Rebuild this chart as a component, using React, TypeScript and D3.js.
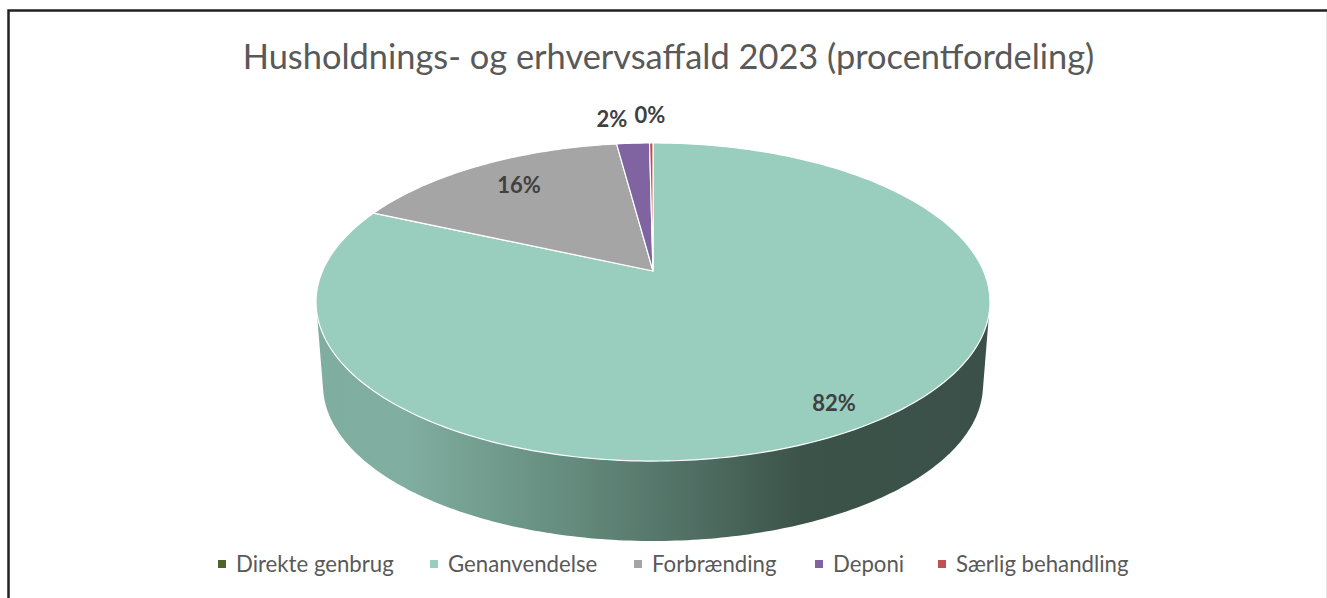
import * as d3 from "d3";
import React, { useMemo } from "react";

const categories = ["Direkte genbrug", "Genanvendelse", "Forbrænding", "Deponi", "Særlig behandling"];
const values = [0, 81.7, 16.2, 1.9, 0.2];
const labels = ["", "82%", "16%", "2%", "0%"];
const colors = ["#4f6228", "#99cdbe", "#a5a5a5", "#8064a2", "#c0504d"];
const legendX = [218, 430, 634, 815, 938];
const labelPos: [number, number][] = [[0, 0], [834, 403], [519, 185], [612, 119], [650, 115]];

const W = 1327;
const H = 598;
const cx = 653;
const apexY = 271;
// the pie is tilted, so the near edge comes out bigger than the far edge
const k = -0.195;
const projX = 330.5;
const projY = 153;
const side = { cy: 385, rx: 330, ry: 156 };

const project = (a: number): [number, number] => {
  const u = Math.sin(a);
  const v = -Math.cos(a);
  const d = 1 + k * v;
  return [cx + (projX * u) / d, apexY + (projY * v) / d];
};

const App = () => {
  const slices = useMemo(
    () => d3.pie<number>().sort(null).startAngle(0).endAngle(2 * Math.PI)(values),
    []
  );
  const line = d3.line();

  const slicePath = (s: d3.PieArcDatum<number>) => {
    const n = Math.max(2, Math.ceil((s.endAngle - s.startAngle) * 60));
    const pts = d3.range(n + 1).map((i) => project(s.startAngle + ((s.endAngle - s.startAngle) * i) / n));
    return line([[cx, apexY], ...pts, [cx, apexY]]) + "Z";
  };

  // side wall: base ellipse from tangent to tangent, joined up to the widest points of the rim
  const base = d3.range(2, 179).map((deg): [number, number] => {
    const a = (deg / 180) * Math.PI;
    return [cx + side.rx * Math.cos(a), side.cy + side.ry * Math.sin(a)];
  });
  const widest = Math.acos(k);
  const rimLeft = project(2 * Math.PI - widest);
  const rimRight = project(widest);
  const wall = line([...base, rimLeft, [cx, apexY], rimRight]) + "Z";

  return (
    <svg width={W} height={H} style={{ position: "absolute", left: 0, top: 0, background: "#fff" }}>
      <defs>
        <linearGradient id="wall" gradientUnits="userSpaceOnUse" x1={318} x2={988} y1={0} y2={0}>
          <stop offset="0" stopColor="#7fad9f" />
          <stop offset="0.13" stopColor="#80aea0" />
          <stop offset="0.38" stopColor="#648b7d" />
          <stop offset="0.57" stopColor="#4f6d62" />
          <stop offset="0.72" stopColor="#3c5349" />
          <stop offset="1" stopColor="#3a5049" />
        </linearGradient>
      </defs>
      <path d={`M8.5,${H}V10.5H${W}`} fill="none" stroke="#222" strokeWidth={2.5} />
      <line x1={W - 0.5} x2={W - 0.5} y1={12} y2={H} stroke="#e4e4e4" />
      <text
        x={668.5}
        y={69}
        textAnchor="middle"
        fontFamily="Lato, 'Open Sans', sans-serif"
        fontSize={34.4}
        fill="#595959"
      >
        Husholdnings- og erhvervsaffald 2023 (procentfordeling)
      </text>
      <path d={wall} fill="url(#wall)" />
      {slices.map((s, i) =>
        s.value > 0 ? (
          <path key={categories[i]} d={slicePath(s)} fill={colors[i]} stroke="#fff" strokeWidth={1.2} strokeLinejoin="round" />
        ) : null
      )}
      {labels.map((l, i) =>
        l ? (
          <text
            key={i}
            x={labelPos[i][0]}
            y={labelPos[i][1]}
            dy="0.35em"
            textAnchor="middle"
            fontFamily="Lato, 'Open Sans', sans-serif"
            fontWeight={700}
            fontSize={22}
            fill="#404040"
          >
            {l}
          </text>
        ) : null
      )}
      {categories.map((c, i) => (
        <g key={c}>
          <rect x={legendX[i]} y={560} width={8} height={8} fill={colors[i]} />
          <text
            x={legendX[i] + 18}
            y={572}
            fontFamily="Lato, 'Open Sans', sans-serif"
            fontSize={22.2}
            fill="#595959"
          >
            {c}
          </text>
        </g>
      ))}
    </svg>
  );
};

export default App;
